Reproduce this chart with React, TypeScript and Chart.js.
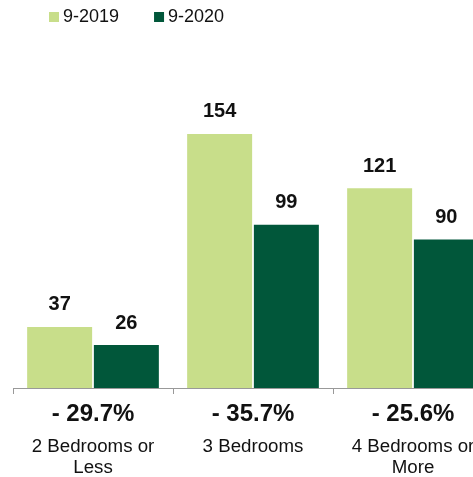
import React, { useEffect, useRef } from "react";
import { Chart, registerables } from "chart.js";

Chart.register(...registerables);

const categories: string[][] = [["2 Bedrooms or", "Less"], ["3 Bedrooms"], ["4 Bedrooms or", "More"]];
const series2019: number[] = [37, 154, 121];
const series2020: number[] = [26, 99, 90];
const changeLabels: string[] = ["- 29.7%", "- 35.7%", "- 25.6%"];
const seriesNames: string[] = ["9-2019", "9-2020"];

const LIGHT = "#c8de8a";
const DARK = "#01573a";
const FONT = "'Liberation Sans', Arial, Helvetica, sans-serif";

const valueLabels = {
  id: "valueLabels",
  afterDatasetsDraw(chart: any) {
    const ctx = chart.ctx;
    ctx.save();
    ctx.fillStyle = "#111";
    ctx.font = `bold 20px ${FONT}`;
    ctx.textAlign = "center";
    ctx.textBaseline = "middle";
    chart.data.datasets.forEach((ds: any, di: number) => {
      const meta = chart.getDatasetMeta(di);
      meta.data.forEach((el: any, i: number) => {
        ctx.fillText(String(ds.data[i]), el.x, el.y - 22);
      });
    });
    ctx.restore();
  },
};

const changeText = {
  id: "changeText",
  afterDraw(chart: any) {
    const ctx = chart.ctx;
    const xs = chart.scales.x;
    ctx.save();
    ctx.fillStyle = "#111";
    ctx.font = `bold 24px ${FONT}`;
    ctx.textAlign = "center";
    ctx.textBaseline = "middle";
    changeLabels.forEach((t, i) => {
      ctx.fillText(t, xs.getPixelForValue(i), chart.chartArea.bottom + 26);
    });
    ctx.restore();
  },
};

const topLegend = {
  id: "topLegend",
  afterDraw(chart: any) {
    const ctx = chart.ctx;
    ctx.save();
    ctx.font = `18px ${FONT}`;
    ctx.textBaseline = "middle";
    ctx.textAlign = "left";
    let x = 49;
    chart.data.datasets.forEach((ds: any) => {
      ctx.fillStyle = ds.backgroundColor;
      ctx.fillRect(x, 12, 10, 10);
      ctx.fillStyle = "#111";
      ctx.fillText(ds.label, x + 14, 17);
      x += 14 + ctx.measureText(ds.label).width + 35;
    });
    ctx.restore();
  },
};

export default function App() {
  const ref = useRef<HTMLCanvasElement>(null);
  useEffect(() => {
    if (!ref.current) return;
    const chart = new Chart(ref.current, {
      type: "bar",
      data: {
        labels: categories as any,
        datasets: [
          { label: seriesNames[0], data: series2019, backgroundColor: LIGHT, categoryPercentage: 0.834, barPercentage: 0.974 },
          { label: seriesNames[1], data: series2020, backgroundColor: DARK, categoryPercentage: 0.834, barPercentage: 0.974 },
        ],
      },
      options: {
        animation: false,
        responsive: false,
        devicePixelRatio: 1,
        layout: { padding: { left: 13, right: 17, top: 58, bottom: 0 } },
        plugins: { legend: { display: false }, tooltip: { enabled: false } },
        scales: {
          y: { display: false, min: 0, max: 200 },
          x: {
            afterFit(scale: any) {
              scale.height = 89;
              scale.paddingLeft = 0;
              scale.paddingRight = 0;
            },
            grid: { display: true, drawOnChartArea: false, drawTicks: true, tickLength: 6, color: "#999", offset: true },
            border: { display: true, color: "#999", width: 1 },
            ticks: {
              color: "#111",
              padding: 43,
              maxRotation: 0,
              autoSkip: false,
              font: { family: FONT, size: 18.7, lineHeight: 1.1 },
            },
          },
        },
      },
      plugins: [valueLabels, changeText, topLegend],
    });
    return () => chart.destroy();
  }, []);
  return (
    <div style={{ position: "fixed", left: 0, top: 0, width: 473, height: 477, overflow: "hidden", background: "#fff" }}>
      <canvas ref={ref} width={510} height={477} style={{ display: "block", width: 510, height: 477 }} />
    </div>
  );
}
